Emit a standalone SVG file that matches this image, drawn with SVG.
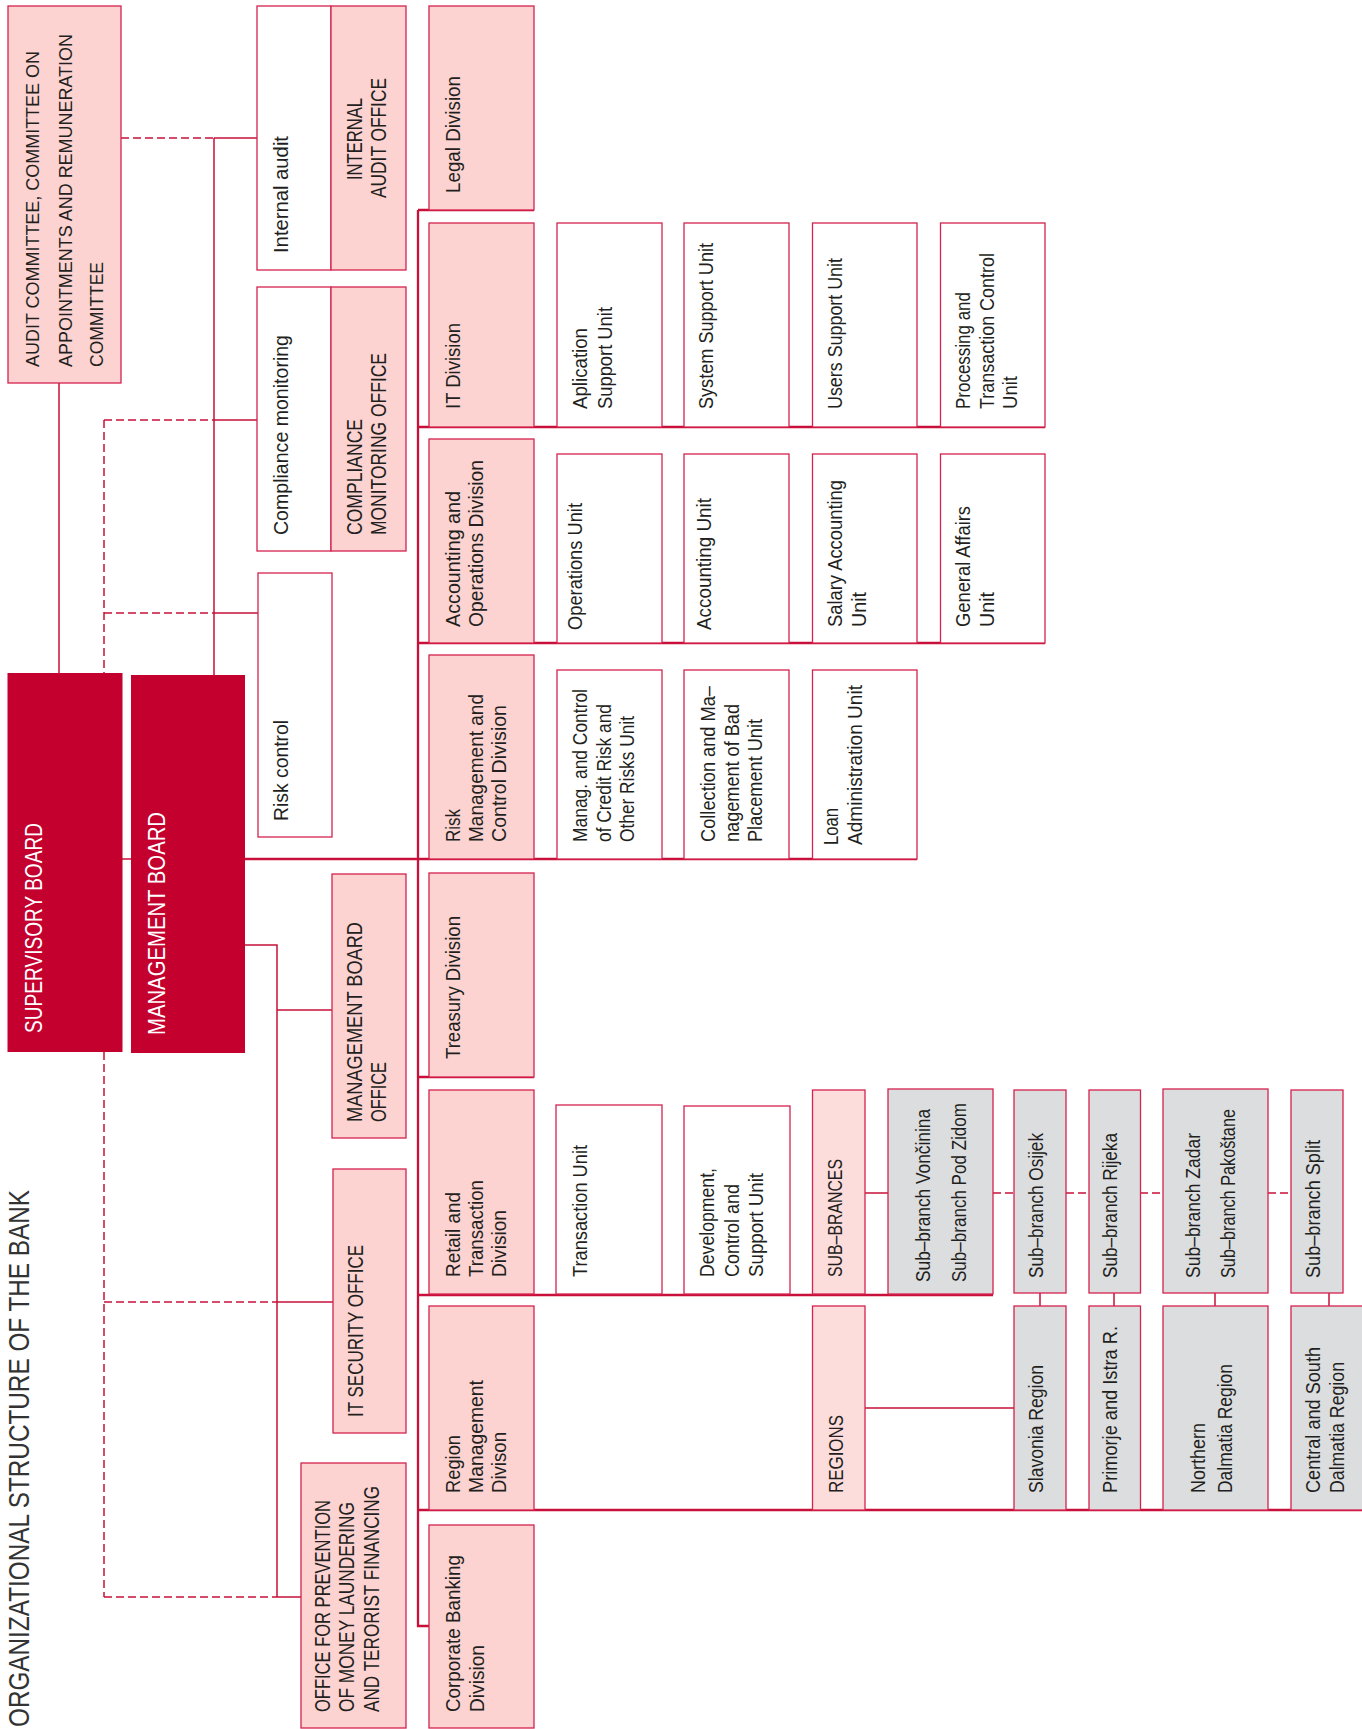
<svg xmlns="http://www.w3.org/2000/svg" width="1362" height="1729" viewBox="0 0 1362 1729">
<style>
.pk{fill:#fcd3d0;stroke:#d4234f;stroke-width:1.3}
.lp{fill:#fddcdc;stroke:#d4234f;stroke-width:1.3}
.wh{fill:#ffffff;stroke:#d4234f;stroke-width:1.3}
.gr{fill:#dcdddf;stroke:#d4234f;stroke-width:1.3}
.db{fill:#c4002f}
.ln{stroke:#c8103a;stroke-width:1.5;fill:none}
.rw{stroke-width:2.3}
.ds{stroke-dasharray:8 4}
text{font-family:"Liberation Sans",Arial,sans-serif;fill:#231f20;font-size:21px}
.u{font-size:20.5px}
.c{font-size:21.5px}
.a{font-size:19px}
.s{font-size:20px}
.b{font-size:24px;fill:#ffffff}
.ti{font-size:30px;fill:#333333}
</style>
<defs/>
<g id="connectors">
<path class="ln ds" d="M121,138H214M104,420H214M104,613H214M104,420V673M104,1052V1597M104,1302H277M104,1597H277"/>
<path class="ln" d="M214,138H257M214,138V675M214,420H257M214,613H258M59,383V673M122,859H131M245,945H277V1597M277,1010H332M277,1302H333M277,1597H381"/>
<path class="ln rw" d="M245,859H917M418,210H534M418,210V1626H429M418,427H1045M418,643H1045M418,1077H534M418,1295H993M418,1510H1362"/>
<path class="ln" d="M865,1193H888M865,1408H1014M1040,1293V1306M1114,1293V1306M1215,1293V1306M1329,1293V1306"/>
<path class="ln ds" d="M993,1193H1014M1066,1193H1089M1140,1193H1163M1268,1193H1291"/>
</g>
<g id="title"><text class="ti" transform="rotate(-90)" x="-1727" y="28.5" textLength="537" lengthAdjust="spacingAndGlyphs">ORGANIZATIONAL STRUCTURE OF THE BANK</text></g>
<g id="audit-committee"><rect class="pk" x="8" y="6" width="113" height="377"/>
<text class="a" transform="rotate(-90)" x="-367" y="38.5" textLength="316" lengthAdjust="spacingAndGlyphs">AUDIT COMMITTEE,  COMMITTEE ON</text>
<text class="a" transform="rotate(-90)" x="-367" y="72" textLength="333" lengthAdjust="spacingAndGlyphs">APPOINTMENTS AND REMUNERATION</text>
<text class="a" transform="rotate(-90)" x="-367" y="103" textLength="105" lengthAdjust="spacingAndGlyphs">COMMITTEE</text></g>
<g id="internal-audit"><rect class="wh" x="257" y="6" width="74" height="264"/>
<text transform="rotate(-90)" x="-253" y="288" textLength="117" lengthAdjust="spacingAndGlyphs">Internal audit</text></g>
<g id="internal-audit-office"><rect class="pk" x="331" y="6" width="75" height="264"/>
<text class="c" transform="rotate(-90)" x="-180" y="362" textLength="82" lengthAdjust="spacingAndGlyphs">INTERNAL</text>
<text class="c" transform="rotate(-90)" x="-198" y="386" textLength="120" lengthAdjust="spacingAndGlyphs">AUDIT OFFICE</text></g>
<g id="compliance-monitoring"><rect class="wh" x="257" y="287" width="74" height="264"/>
<text transform="rotate(-90)" x="-535" y="288" textLength="200" lengthAdjust="spacingAndGlyphs">Compliance monitoring</text></g>
<g id="compliance-office"><rect class="pk" x="331" y="287" width="75" height="264"/>
<text class="c" transform="rotate(-90)" x="-535" y="362" textLength="116" lengthAdjust="spacingAndGlyphs">COMPLIANCE</text>
<text class="c" transform="rotate(-90)" x="-535" y="386" textLength="182" lengthAdjust="spacingAndGlyphs">MONITORING OFFICE</text></g>
<g id="risk-control"><rect class="wh" x="258" y="573" width="74" height="264"/>
<text transform="rotate(-90)" x="-821" y="288" textLength="101" lengthAdjust="spacingAndGlyphs">Risk control</text></g>
<g id="supervisory-board"><rect class="db" x="7.5" y="673" width="115" height="379"/>
<text class="b" transform="rotate(-90)" x="-1033" y="42" textLength="210" lengthAdjust="spacingAndGlyphs">SUPERVISORY BOARD</text></g>
<g id="management-board"><rect class="db" x="131" y="675" width="114" height="378"/>
<text class="b" transform="rotate(-90)" x="-1035" y="165" textLength="223" lengthAdjust="spacingAndGlyphs">MANAGEMENT BOARD</text></g>
<g id="management-board-office"><rect class="pk" x="332" y="874" width="74" height="264"/>
<text class="c" transform="rotate(-90)" x="-1122" y="362" textLength="200" lengthAdjust="spacingAndGlyphs">MANAGEMENT BOARD</text>
<text class="c" transform="rotate(-90)" x="-1122" y="386" textLength="60" lengthAdjust="spacingAndGlyphs">OFFICE</text></g>
<g id="it-security-office"><rect class="pk" x="333" y="1169" width="73" height="264"/>
<text class="c" transform="rotate(-90)" x="-1417" y="363" textLength="172" lengthAdjust="spacingAndGlyphs">IT SECURITY OFFICE</text></g>
<g id="aml-office"><rect class="pk" x="301" y="1463" width="105" height="265"/>
<text class="c" transform="rotate(-90)" x="-1712" y="330" textLength="212" lengthAdjust="spacingAndGlyphs">OFFICE FOR PREVENTION</text>
<text class="c" transform="rotate(-90)" x="-1712" y="354" textLength="210" lengthAdjust="spacingAndGlyphs">OF MONEY LAUNDERING</text>
<text class="c" transform="rotate(-90)" x="-1712" y="379" textLength="226" lengthAdjust="spacingAndGlyphs">AND TERORIST FINANCING</text></g>
<g id="legal-division"><rect class="pk" x="429" y="6" width="105" height="204"/>
<text transform="rotate(-90)" x="-193" y="459.5" textLength="117" lengthAdjust="spacingAndGlyphs">Legal Division</text></g>
<g id="it-division"><rect class="pk" x="429" y="223" width="105" height="204"/>
<text transform="rotate(-90)" x="-409" y="459.5" textLength="86" lengthAdjust="spacingAndGlyphs">IT Division</text></g>
<g id="accounting-division"><rect class="pk" x="429" y="439" width="105" height="204"/>
<text transform="rotate(-90)" x="-627" y="459.5" textLength="136" lengthAdjust="spacingAndGlyphs">Accounting and</text>
<text transform="rotate(-90)" x="-627" y="483" textLength="167" lengthAdjust="spacingAndGlyphs">Operations Division</text></g>
<g id="risk-division"><rect class="pk" x="429" y="655" width="105" height="204"/>
<text transform="rotate(-90)" x="-842" y="459.5" textLength="33" lengthAdjust="spacingAndGlyphs">Risk</text>
<text transform="rotate(-90)" x="-842" y="483" textLength="148" lengthAdjust="spacingAndGlyphs">Management and</text>
<text transform="rotate(-90)" x="-842" y="506" textLength="137" lengthAdjust="spacingAndGlyphs">Control Division</text></g>
<g id="treasury-division"><rect class="pk" x="429" y="873" width="105" height="204"/>
<text transform="rotate(-90)" x="-1059" y="459.5" textLength="143" lengthAdjust="spacingAndGlyphs">Treasury Division</text></g>
<g id="retail-division"><rect class="pk" x="429" y="1090" width="105" height="204"/>
<text transform="rotate(-90)" x="-1277" y="459.5" textLength="85" lengthAdjust="spacingAndGlyphs">Retail and</text>
<text transform="rotate(-90)" x="-1277" y="483" textLength="97" lengthAdjust="spacingAndGlyphs">Transaction</text>
<text transform="rotate(-90)" x="-1277" y="506" textLength="67" lengthAdjust="spacingAndGlyphs">Division</text></g>
<g id="region-division"><rect class="pk" x="429" y="1306" width="105" height="204"/>
<text transform="rotate(-90)" x="-1493" y="459.5" textLength="58" lengthAdjust="spacingAndGlyphs">Region</text>
<text transform="rotate(-90)" x="-1493" y="483" textLength="113" lengthAdjust="spacingAndGlyphs">Management</text>
<text transform="rotate(-90)" x="-1493" y="506" textLength="61" lengthAdjust="spacingAndGlyphs">Divison</text></g>
<g id="corporate-division"><rect class="pk" x="429" y="1525" width="105" height="203"/>
<text transform="rotate(-90)" x="-1712" y="459.5" textLength="157" lengthAdjust="spacingAndGlyphs">Corporate  Banking</text>
<text transform="rotate(-90)" x="-1712" y="484" textLength="67" lengthAdjust="spacingAndGlyphs">Division</text></g>
<g id="aplication-support"><rect class="wh" x="557" y="223" width="105" height="204"/>
<text class="u" transform="rotate(-90)" x="-409" y="587" textLength="81" lengthAdjust="spacingAndGlyphs">Aplication</text>
<text class="u" transform="rotate(-90)" x="-409" y="612" textLength="102" lengthAdjust="spacingAndGlyphs">Support Unit</text></g>
<g id="system-support"><rect class="wh" x="684" y="223" width="105" height="204"/>
<text class="u" transform="rotate(-90)" x="-409" y="713" textLength="166" lengthAdjust="spacingAndGlyphs">System Support Unit</text></g>
<g id="users-support"><rect class="wh" x="812.5" y="223" width="104.5" height="204"/>
<text class="u" transform="rotate(-90)" x="-409" y="842" textLength="151" lengthAdjust="spacingAndGlyphs">Users Support Unit</text></g>
<g id="processing-unit"><rect class="wh" x="940.5" y="223" width="104.5" height="204"/>
<text class="u" transform="rotate(-90)" x="-409" y="970" textLength="117" lengthAdjust="spacingAndGlyphs">Processing and</text>
<text class="u" transform="rotate(-90)" x="-409" y="994" textLength="156" lengthAdjust="spacingAndGlyphs">Transaction Control</text>
<text class="u" transform="rotate(-90)" x="-409" y="1017" textLength="33" lengthAdjust="spacingAndGlyphs">Unit</text></g>
<g id="operations-unit"><rect class="wh" x="557" y="454" width="105" height="189"/>
<text class="u" transform="rotate(-90)" x="-630" y="582" textLength="127" lengthAdjust="spacingAndGlyphs">Operations Unit</text></g>
<g id="accounting-unit"><rect class="wh" x="684" y="454" width="105" height="189"/>
<text class="u" transform="rotate(-90)" x="-630" y="711" textLength="132" lengthAdjust="spacingAndGlyphs">Accounting Unit</text></g>
<g id="salary-unit"><rect class="wh" x="812.5" y="454" width="104.5" height="189"/>
<text class="u" transform="rotate(-90)" x="-627" y="842" textLength="147" lengthAdjust="spacingAndGlyphs">Salary Accounting</text>
<text class="u" transform="rotate(-90)" x="-627" y="866" textLength="35" lengthAdjust="spacingAndGlyphs">Unit</text></g>
<g id="general-affairs"><rect class="wh" x="940.5" y="454" width="104.5" height="189"/>
<text class="u" transform="rotate(-90)" x="-627" y="970" textLength="121" lengthAdjust="spacingAndGlyphs">General  Affairs</text>
<text class="u" transform="rotate(-90)" x="-627" y="994" textLength="35" lengthAdjust="spacingAndGlyphs">Unit</text></g>
<g id="credit-risk-unit"><rect class="wh" x="557" y="670" width="105" height="189"/>
<text class="u" transform="rotate(-90)" x="-842" y="586.5" textLength="153" lengthAdjust="spacingAndGlyphs">Manag. and Control</text>
<text class="u" transform="rotate(-90)" x="-842" y="610.5" textLength="138" lengthAdjust="spacingAndGlyphs">of Credit Risk and</text>
<text class="u" transform="rotate(-90)" x="-842" y="634" textLength="126" lengthAdjust="spacingAndGlyphs">Other Risks Unit</text></g>
<g id="collection-unit"><rect class="wh" x="684" y="670" width="105" height="189"/>
<text class="u" transform="rotate(-90)" x="-842" y="714.5" textLength="156" lengthAdjust="spacingAndGlyphs">Collection and Ma–</text>
<text class="u" transform="rotate(-90)" x="-842" y="739" textLength="138" lengthAdjust="spacingAndGlyphs">nagement of Bad</text>
<text class="u" transform="rotate(-90)" x="-842" y="762" textLength="123" lengthAdjust="spacingAndGlyphs">Placement Unit</text></g>
<g id="loan-unit"><rect class="wh" x="812.5" y="670" width="104.5" height="189"/>
<text class="u" transform="rotate(-90)" x="-845" y="838" textLength="37" lengthAdjust="spacingAndGlyphs">Loan</text>
<text class="u" transform="rotate(-90)" x="-845" y="862" textLength="160" lengthAdjust="spacingAndGlyphs">Administration Unit</text></g>
<g id="transaction-unit"><rect class="wh" x="556" y="1105" width="106" height="189"/>
<text class="u" transform="rotate(-90)" x="-1277" y="587" textLength="132" lengthAdjust="spacingAndGlyphs">Transaction Unit</text></g>
<g id="development-unit"><rect class="wh" x="684" y="1106" width="106" height="188"/>
<text class="u" transform="rotate(-90)" x="-1277" y="714" textLength="109" lengthAdjust="spacingAndGlyphs">Development,</text>
<text class="u" transform="rotate(-90)" x="-1277" y="739" textLength="93" lengthAdjust="spacingAndGlyphs">Control and</text>
<text class="u" transform="rotate(-90)" x="-1277" y="763" textLength="104" lengthAdjust="spacingAndGlyphs">Support Unit</text></g>
<g id="sub-brances"><rect class="lp" x="812.5" y="1090" width="52.5" height="204"/>
<text class="u" transform="rotate(-90)" x="-1277" y="842" textLength="118" lengthAdjust="spacingAndGlyphs">SUB–BRANCES</text></g>
<g id="regions"><rect class="lp" x="812.5" y="1306" width="52.5" height="204"/>
<text class="u" transform="rotate(-90)" x="-1493" y="843" textLength="78" lengthAdjust="spacingAndGlyphs">REGIONS</text></g>
<g id="sb-voncinina"><rect class="gr" x="888" y="1089" width="105" height="205"/>
<text class="s" transform="rotate(-90)" x="-1282" y="929.5" textLength="173" lengthAdjust="spacingAndGlyphs">Sub–branch Vončinina</text>
<text class="s" transform="rotate(-90)" x="-1282" y="966" textLength="179" lengthAdjust="spacingAndGlyphs">Sub–branch Pod  Zidom</text></g>
<g id="sb-osijek"><rect class="gr" x="1014" y="1090" width="52" height="203"/>
<text class="s" transform="rotate(-90)" x="-1278" y="1043" textLength="145" lengthAdjust="spacingAndGlyphs">Sub–branch Osijek</text></g>
<g id="sb-rijeka"><rect class="gr" x="1089" y="1090" width="51.5" height="203"/>
<text class="s" transform="rotate(-90)" x="-1278" y="1117" textLength="145" lengthAdjust="spacingAndGlyphs">Sub–branch Rijeka</text></g>
<g id="sb-zadar"><rect class="gr" x="1163" y="1089" width="105" height="204"/>
<text class="s" transform="rotate(-90)" x="-1278" y="1200" textLength="145" lengthAdjust="spacingAndGlyphs">Sub–branch Zadar</text>
<text class="s" transform="rotate(-90)" x="-1278" y="1234.5" textLength="169" lengthAdjust="spacingAndGlyphs">Sub–branch Pakoštane</text></g>
<g id="sb-split"><rect class="gr" x="1291" y="1090" width="52" height="203"/>
<text class="s" transform="rotate(-90)" x="-1278" y="1320" textLength="138" lengthAdjust="spacingAndGlyphs">Sub–branch Split</text></g>
<g id="slavonia-region"><rect class="gr" x="1014" y="1306" width="52" height="204"/>
<text class="s" transform="rotate(-90)" x="-1493" y="1043" textLength="128" lengthAdjust="spacingAndGlyphs">Slavonia  Region</text></g>
<g id="primorje-region"><rect class="gr" x="1089" y="1306" width="51.5" height="204"/>
<text class="s" transform="rotate(-90)" x="-1493" y="1117" textLength="167" lengthAdjust="spacingAndGlyphs">Primorje and Istra R.</text></g>
<g id="northern-dalmatia"><rect class="gr" x="1163" y="1306" width="105" height="204"/>
<text class="s" transform="rotate(-90)" x="-1493" y="1205" textLength="70" lengthAdjust="spacingAndGlyphs">Northern</text>
<text class="s" transform="rotate(-90)" x="-1493" y="1232" textLength="129" lengthAdjust="spacingAndGlyphs">Dalmatia  Region</text></g>
<g id="central-dalmatia"><rect class="gr" x="1291" y="1306" width="80" height="204"/>
<text class="s" transform="rotate(-90)" x="-1493" y="1320" textLength="146" lengthAdjust="spacingAndGlyphs">Central and South</text>
<text class="s" transform="rotate(-90)" x="-1493" y="1344" textLength="131" lengthAdjust="spacingAndGlyphs">Dalmatia Region</text></g>
</svg>
